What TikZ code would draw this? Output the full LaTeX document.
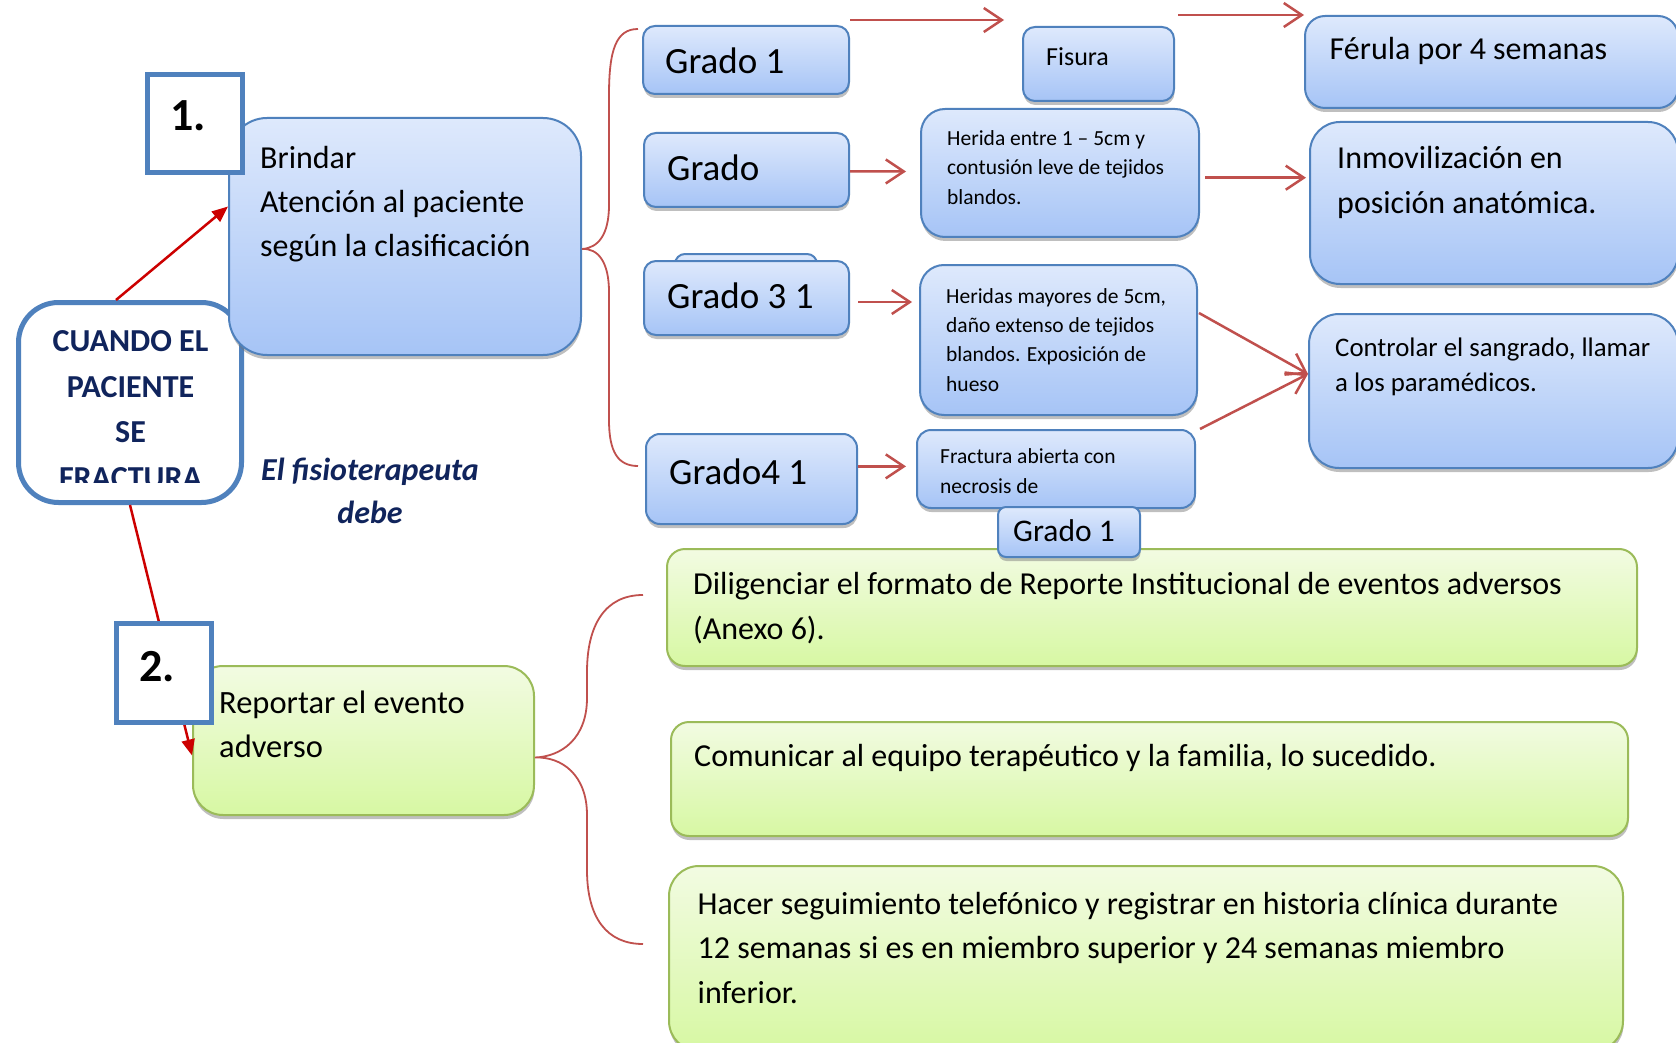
\documentclass[tikz,border=0pt]{standalone}
\usepackage{fontspec}
\setmainfont{Carlito}
\usetikzlibrary{arrows.meta,shadows}
\definecolor{bord}{HTML}{4F81BD}
\definecolor{btop}{HTML}{DEE9FC}
\definecolor{bbot}{HTML}{A6C4F6}
\definecolor{gbord}{HTML}{9BBB59}
\definecolor{gtop}{HTML}{F2FBE2}
\definecolor{gbot}{HTML}{D7F8A3}
\definecolor{redc}{HTML}{C0504D}
\definecolor{dred}{HTML}{CC0000}
\definecolor{navy}{HTML}{10245C}
\newcommand\mlines[2]{\vtop{\baselineskip=#1\lineskiplimit=-\maxdimen\lineskip=0pt #2}}
\begin{document}
\begin{tikzpicture}[x=1pt,y=-1pt,
  bbox/.style={draw=bord, line width=2pt, rounded corners=#1, top color=btop, bottom color=bbot,
    drop shadow={shadow xshift=0.5pt, shadow yshift=-4pt, fill=black!55, opacity=0.45},
    inner sep=0pt, anchor=north west},
  bbox/.default=12pt,
  gbox/.style={draw=gbord, line width=2pt, rounded corners=#1, top color=gtop, bottom color=gbot,
    drop shadow={shadow xshift=0.5pt, shadow yshift=-4pt, fill=black!55, opacity=0.45},
    inner sep=0pt, anchor=north west},
  gbox/.default=18pt,
  wbox/.style={draw=bord, line width=5pt, fill=white, rounded corners=#1, inner sep=0pt, anchor=north west},
  wbox/.default=40pt,
  sqbox/.style={draw=bord, line width=5pt, fill=white, sharp corners, inner sep=0pt, anchor=north west},
  tx/.style={inner sep=0pt, anchor=base west, font=\fontsize{32}{38}\selectfont},
  gtx/.style={inner sep=0pt, anchor=base west, font=\fontsize{37}{44}\selectfont},
  stx/.style={inner sep=0pt, anchor=base west, font=\fontsize{21.5}{29}\selectfont},
  ctx/.style={inner sep=0pt, anchor=base, text=navy, font=\fontsize{32}{38}\selectfont\bfseries},
  itx/.style={inner sep=0pt, anchor=base, text=navy, font=\fontsize{32}{38}\selectfont\bfseries\itshape},
  numtx/.style={inner sep=0pt, anchor=base west, font=\fontsize{46}{50}\selectfont\bfseries},
  arr/.style={draw=redc, line width=2.5pt, -{Straight Barb[length=18pt,width=24pt]}},
  darr/.style={draw=dred, line width=2.5pt, -{Triangle[length=16pt,width=13pt]}},
  brace/.style={draw=redc, line width=1.8pt}
]
\useasboundingbox (0,0) rectangle (1676,1043);
\fill[white] (0,0) rectangle (1676,1043);
\clip (0,0) rectangle (1676,1043);

% white main box
\node[wbox=40pt, minimum width=223pt, minimum height=200pt] (cuando) at (16,300) {};
\node[ctx] (c1) at (130.5,351.7) {CUANDO EL};
\node[ctx] (c2) at (130.5,397.7) {PACIENTE};
\node[ctx] (c3) at (130.5,442.7) {SE};
\begin{scope}
\clip (16,455) rectangle (244,482);
\node[ctx] (c4) at (130.5,488) {FRACTURA};
\end{scope}

\node[itx] (fis1) at (370,480) {El fisioterapeuta};
\node[itx] (fis2) at (370,523) {debe};

% big boxes
\node[bbox=38pt, minimum width=352pt, minimum height=237pt] (brindar) at (228,117) {};
\node[gbox=30pt, minimum width=341pt, minimum height=149pt] (reportar) at (192,665) {};

% grado boxes
\node[bbox=10pt, minimum width=142pt, minimum height=48pt] (g3back) at (674,253) {};
\node[bbox=12pt, minimum width=206pt, minimum height=68pt] (grado1) at (642,25) {};
\node[bbox=12pt, minimum width=205pt, minimum height=74pt] (grado2) at (643,132) {};
\node[bbox=12pt, minimum width=205pt, minimum height=74pt] (grado3) at (643,260) {};
\node[bbox=14pt, minimum width=211pt, minimum height=90pt] (grado4) at (645,433) {};

% middle boxes
\node[bbox=12pt, minimum width=151pt, minimum height=74pt] (fisura) at (1022,26) {};
\node[bbox=24pt, minimum width=278pt, minimum height=128pt] (herida) at (920,108) {};
\node[bbox=24pt, minimum width=277pt, minimum height=150pt] (heridas) at (919,264) {};
\node[bbox=14pt, minimum width=278pt, minimum height=78pt] (fractura) at (916,429) {};

% right boxes
\node[bbox=20pt, minimum width=373pt, minimum height=92pt] (ferula) at (1304,15) {};
\node[bbox=30pt, minimum width=368pt, minimum height=162pt] (inmov) at (1309,121) {};
\node[bbox=30pt, minimum width=369pt, minimum height=154pt] (controlar) at (1308,313) {};

% green boxes
\node[gbox=18pt, minimum width=970pt, minimum height=117pt] (dilig) at (666,548) {};
\node[gbox=18pt, minimum width=957pt, minimum height=114pt] (comun) at (670,721) {};
\node[gbox=30pt, minimum width=954pt, minimum height=185pt] (hacer) at (668,865) {};

\node[bbox=8pt, minimum width=142pt, minimum height=50pt] (grado1b) at (997,506) {};

% texts
\node[tx] (tbrindar) at (260,169) {\mlines{44pt}{\hbox{Brindar}\hbox{Atención al paciente}\hbox{según la clasificación}}};
\node[tx, font=\fontsize{32.5}{38}\selectfont] (treportar) at (219,713.4) {\mlines{44.2pt}{\hbox{Reportar el evento}\hbox{adverso}}};
\node[gtx] (tg1) at (665,74) {Grado 1};
\node[gtx] (tg2) at (667,181) {Grado};
\node[gtx] (tg3) at (667,308) {Grado 3 1};
\node[gtx] (tg4) at (669,484) {Grado4 1};
\node[tx, font=\fontsize{26}{30}\selectfont] (tfisura) at (1046,66) {Fisura};
\node[stx] (therida) at (947,145.7) {\mlines{29.3pt}{\hbox{Herida entre 1 – 5cm y}\hbox{contusión leve de tejidos}\hbox{blandos.}}};
\node[stx] (theridas) at (946,303) {\mlines{29.4pt}{\hbox{Heridas mayores de 5cm,}\hbox{daño extenso de tejidos}\hbox{blandos. Exposición de}\hbox{hueso}}};
\node[stx] (tfractura) at (940,463.6) {\mlines{29.4pt}{\hbox{Fractura abierta con}\hbox{necrosis de}}};
\node[tx, font=\fontsize{31.5}{36}\selectfont] (tg1b) at (1013,541.7) {Grado 1};
\node[tx, font=\fontsize{32}{38}\selectfont] (tferula) at (1329.5,60) {Férula por 4 semanas};
\node[tx, font=\fontsize{32}{38}\selectfont] (tinmov) at (1337,169) {\mlines{44.3pt}{\hbox{Inmovilización en}\hbox{posición anatómica.}}};
\node[tx, font=\fontsize{26.8}{32}\selectfont] (tcontrolar) at (1335,356) {\mlines{35.7pt}{\hbox{Controlar el sangrado, llamar}\hbox{a los paramédicos.}}};
\node[tx] (tdilig) at (693,594) {\mlines{45.3pt}{\hbox{Diligenciar el formato de Reporte Institucional de eventos adversos}\hbox{(Anexo 6).}}};
\node[tx] (tcomun) at (694,766.7) {Comunicar al equipo terapéutico y la familia, lo sucedido.};
\node[tx] (thacer) at (697.5,914.3) {\mlines{44.5pt}{\hbox{Hacer seguimiento telefónico y registrar en historia clínica durante}\hbox{12 semanas si es en miembro superior y 24 semanas miembro}\hbox{inferior.}}};

% braces
\coordinate (b1p) at ([yshift=-12.5pt]brindar.east);
\coordinate (b1t) at (638,29);
\coordinate (b1b) at (638,466);
\draw[brace] (b1t) .. controls (616,29) and (609,50) .. (609,95) -- (609,205)
  .. controls (609,235) and (598,248) .. (b1p)
  .. controls (598,248) and (609,262) .. (609,292) -- (609,420)
  .. controls (609,452) and (618,466) .. (b1b);
\coordinate (b2p) at ([yshift=-17pt]reportar.east);
\coordinate (b2t) at (643,595);
\coordinate (b2b) at (643,944);
\draw[brace] (b2t) .. controls (605,595) and (587,625) .. (587,672) -- (587,698)
  .. controls (587,738) and (562,756.5) .. (b2p)
  .. controls (562,756.5) and (587,775) .. (587,815) -- (587,870)
  .. controls (587,918) and (607,944) .. (b2b);

% arrows
\draw[arr] ([yshift=5pt]grado1.north east) -- ([xshift=-18pt,yshift=6pt]fisura.north west);
\draw[arr] ([xshift=3pt,yshift=11pt]fisura.north east) -- (ferula.north west);
\draw[arr] ([yshift=-1.4pt]grado2.east) -- ([xshift=-14pt,yshift=1.5pt]herida.west);
\draw[arr] ([xshift=5pt,yshift=-4.7pt]herida.east) -- ([xshift=-3pt,yshift=25.3pt]inmov.west);
\draw[arr] ([xshift=8pt,yshift=-4pt]grado3.east) -- ([xshift=-7pt,yshift=38pt]heridas.west);
\draw[arr] ([xshift=1pt,yshift=27pt]heridas.east) -- ([yshift=17pt]controlar.west);
\draw[arr] ([xshift=4pt]fractura.north east) -- ([yshift=17pt]controlar.west);
\draw[arr] ([yshift=12.6pt]grado4.east) -- ([xshift=-10pt,yshift=2.6pt]fractura.west);

\draw[darr] ([xshift=-14pt]cuando.north) -- ([yshift=30pt]brindar.west);
\draw[darr] (cuando.south) -- ([yshift=-15pt]reportar.west);

% number boxes
\node[sqbox, minimum width=95pt, minimum height=98pt] (box1) at (145,72) {};
\node[numtx] (n1) at (170,131) {1.};
\node[sqbox, minimum width=95pt, minimum height=99pt] (box2) at (114,621) {};
\node[numtx] (n2) at (139,681) {2.};
\end{tikzpicture}
\end{document}
